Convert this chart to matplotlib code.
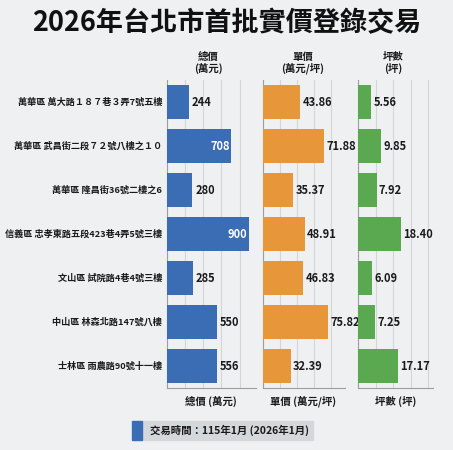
import matplotlib.pyplot as plt
from matplotlib.patches import Rectangle

plt.rcParams['font.family'] = ['Noto Sans CJK TC', 'DejaVu Sans']

# 資料
addresses = [
    "萬華區 萬大路１８７巷３弄7號五樓",
    "萬華區 武昌街二段７２號八樓之１０",
    "萬華區 隆昌街36號二樓之6",
    "信義區 忠孝東路五段423巷4弄5號三樓",
    "文山區 試院路4巷4號三樓",
    "中山區 林森北路147號八樓",
    "士林區 雨農路90號十一樓",
]
total_price = [244, 708, 280, 900, 285, 550, 556]
unit_price = [43.86, 71.88, 35.37, 48.91, 46.83, 75.82, 32.39]
area_ping = [5.56, 9.85, 7.92, 18.40, 6.09, 7.25, 17.17]

bg = '#eef0f2'
fig = plt.figure(figsize=(4.53, 4.50), dpi=100, facecolor=bg)

panels = [
    # (values, color, left, width, xmax, grid step, fmt, inside threshold, header, footer)
    (total_price, '#3a6db3', 167, 89, 980, 200, '{:.0f}', 600, '總價\n(萬元)', '總價 (萬元)'),
    (unit_price, '#e8963a', 263, 82, 96, 20, '{:.2f}', 999, '單價\n(萬元/坪)', '單價 (萬元/坪)'),
    (area_ping, '#5aa84f', 358, 75, 32, 7.5, '{:.2f}', 999, '坪數\n(坪)', '坪數 (坪)'),
]

W, H = 453, 450
top_px, bot_px = 80, 388
ypos = list(range(len(addresses)))

for i, (vals, col, left, width, xmax, step, fmt, thr, head, foot) in enumerate(panels):
    ax = fig.add_axes([left / W, 1 - bot_px / H, width / W, (bot_px - top_px) / H])
    ax.set_facecolor(bg)
    ax.barh(ypos, vals, height=0.78, color=col, zorder=3)
    ax.set_xlim(0, xmax)
    ax.set_ylim(len(addresses) - 0.5, -0.5)
    gx = step
    while gx < xmax:
        ax.axvline(gx, color='#d3d6d9', lw=0.8, zorder=1)
        gx += step
    for s in ['top', 'right']:
        ax.spines[s].set_visible(False)
    for s in ['left', 'bottom']:
        ax.spines[s].set_color('#9a9ea3')
        ax.spines[s].set_linewidth(0.8)
    ax.set_xticks([])
    ax.set_yticks([])
    for y, v in zip(ypos, vals):
        txt = fmt.format(v)
        if v > thr:
            ax.text(v - xmax * 0.02, y, txt, ha='right', va='center', color='white',
                    fontsize=8, fontweight='bold', zorder=4)
        else:
            ax.text(v + xmax * 0.03, y, txt, ha='left', va='center', color='#1a1a1a',
                    fontsize=8, fontweight='bold', zorder=4)
    if i == 0:
        for y, name in zip(ypos, addresses):
            ax.text(-0.055, y, name, transform=ax.get_yaxis_transform(), ha='right',
                    va='center', fontsize=6.6, fontweight='bold', color='#1a1a1a')
    cx = [208, 303, 393][i]
    fig.text(cx / W, 1 - 63 / H, head, ha='center', va='center', fontsize=7.5,
             fontweight='bold', color='#1a1a1a', linespacing=1.1)
    fx = [211, 303, 396][i]
    fig.text(fx / W, 1 - 401 / H, foot, ha='center', va='center', fontsize=7.5,
             fontweight='bold', color='#1a1a1a')

fig.text(0.5, 1 - 23 / H, '2026年台北市首批實價登錄交易', ha='center', va='center',
         fontsize=19.5, fontweight='bold', color='#111111')

# 底部說明
fig.patches.append(Rectangle((142 / W, 1 - 440 / H), 171 / W, 19 / H,
                             transform=fig.transFigure, color='#d5d8db', zorder=0))
fig.patches.append(Rectangle((132 / W, 1 - 440 / H), 10 / W, 19 / H,
                             transform=fig.transFigure, color='#3a6db3', zorder=1))
fig.text(150 / W, 1 - 430.5 / H, '交易時間：115年1月 (2026年1月)', ha='left', va='center',
         fontsize=7.5, fontweight='bold', color='#1a1a1a')

fig.savefig('out.png', dpi=100, facecolor=bg)
